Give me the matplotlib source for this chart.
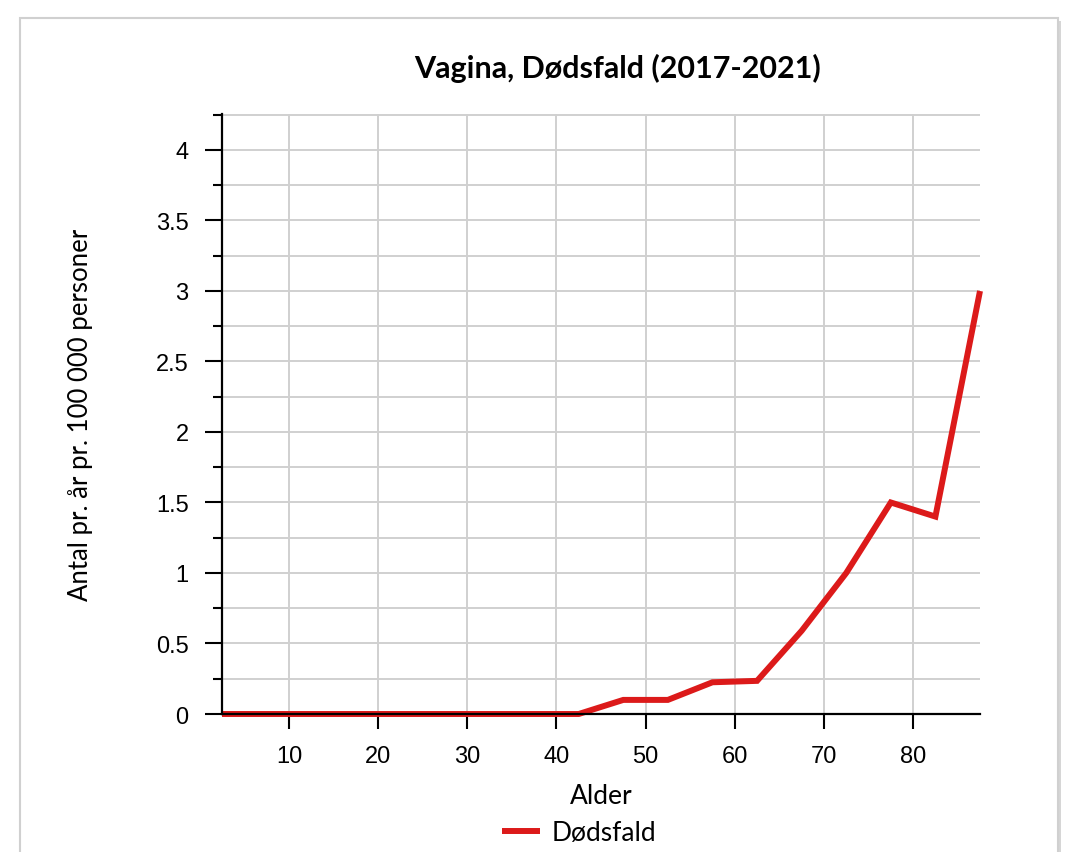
import matplotlib
matplotlib.use("Agg")
import matplotlib.pyplot as plt
from matplotlib.ticker import MultipleLocator, FuncFormatter
from matplotlib.patches import Rectangle

# Data
ages = [2.5, 7.5, 12.5, 17.5, 22.5, 27.5, 32.5, 37.5, 42.5, 47.5,
        52.5, 57.5, 62.5, 67.5, 72.5, 77.5, 82.5, 87.5]
deaths = [0, 0, 0, 0, 0, 0, 0, 0, 0, 0.1,
          0.1, 0.225, 0.235, 0.59, 1.0, 1.5, 1.4, 3.0]
x_ticks = [10, 20, 30, 40, 50, 60, 70, 80]
title = "Vagina, Dødsfald (2017-2021)"
x_label = "Alder"
y_label = "Antal pr. år pr. 100 000 personer"
series_name = "Dødsfald"

W, H = 1074, 853
fig = plt.figure(figsize=(W / 100, H / 100), dpi=100)

# frame around chart
fig.patches.append(Rectangle((23 / W, 0), 1038 / W, 1 - 22 / H, transform=fig.transFigure,
                             facecolor="#d6d6d6", edgecolor="none", zorder=-3))
fig.patches.append(Rectangle((20 / W, -0.01), 1038 / W, 1 - 19 / H + 0.01, transform=fig.transFigure,
                             facecolor="white", edgecolor="#d0d0d0", linewidth=1.5, zorder=-2))

ax = fig.add_axes([222 / W, 1 - 715 / H, (980 - 222) / W, (715 - 115) / H])
ax.set_facecolor("none")
ax.plot(ages, deaths, color="#dc1a1a", linewidth=4.3, solid_joinstyle="miter",
        solid_capstyle="butt", clip_on=False, zorder=3, label=series_name)

ax.set_xlim(2.5, 87.5)
ax.set_ylim(0, 4.255)
ax.set_xticks(x_ticks)
ax.yaxis.set_major_locator(MultipleLocator(0.5))
ax.yaxis.set_minor_locator(MultipleLocator(0.25))
ax.yaxis.set_major_formatter(FuncFormatter(lambda v, p: f"{v:g}"))

ax.grid(True, which="both", axis="y", color="#d0d0d0", linewidth=1.4)
ax.grid(True, which="major", axis="x", color="#d0d0d0", linewidth=1.4)
ax.set_axisbelow(True)

for s in ["top", "right"]:
    ax.spines[s].set_visible(False)
for s in ["left", "bottom"]:
    ax.spines[s].set_linewidth(1.6)
    ax.spines[s].set_color("black")
    ax.spines[s].set_zorder(4)

ax.tick_params(axis="y", which="major", length=12, width=1.5, pad=12,
               labelsize=17, labelfontfamily="Liberation Sans")
ax.tick_params(axis="y", which="minor", length=6.5, width=1.5)
ax.tick_params(axis="x", which="major", length=11, width=1.5, pad=11,
               labelsize=17, labelfontfamily="Liberation Sans")

fig.text(618 / W, 1 - 68 / H, title, ha="center", va="center",
         fontsize=22, fontweight="bold", family="Lato")
fig.text(601 / W, 1 - 797 / H, x_label, ha="center", va="center",
         fontsize=19, family="Lato")
fig.text(81 / W, 1 - 415 / H, y_label, ha="center", va="center",
         rotation=90, fontsize=18.5, family="Lato")

# legend
fig.legend(loc="center", bbox_to_anchor=(579 / W, 1 - 834 / H), frameon=False,
           prop={"family": "Lato", "size": 19}, handlelength=1.45, handletextpad=0.45)

fig.savefig("out.png", dpi=100)
